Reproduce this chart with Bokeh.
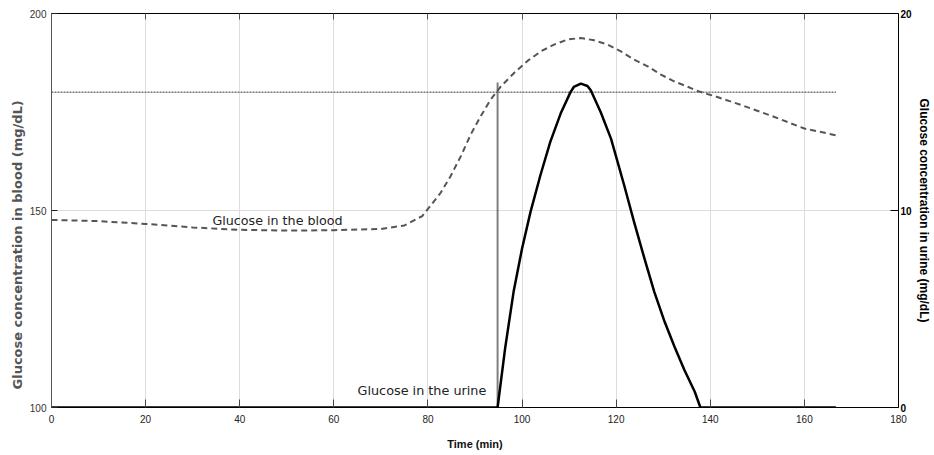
from bokeh.plotting import figure
from bokeh.models import LinearAxis, Range1d, FixedTicker, Label, Title
from bokeh.embed import file_html
from bokeh.resources import INLINE

# ---- data ----
blood_time = [0, 10, 20, 30, 40, 50, 60, 70, 75, 78.8, 80.2, 82.7, 84.8, 87.0, 89.1, 91.2,
              93.3, 95.5, 98.3, 101.1, 104.0, 106.8, 109.7, 112.5, 115.3, 118.2, 121.0,
              123.8, 126.7, 129.5, 132.3, 135.2, 137.6, 141.0, 146.5, 153.5, 160.0, 166.7]
blood = [147.6, 147.3, 146.6, 145.7, 145.1, 144.9, 145.0, 145.3, 146.2, 148.6, 150.7, 154.5,
         158.7, 163.8, 169.3, 173.9, 178.1, 181.5, 184.9, 187.9, 190.4, 192.1, 193.4, 193.8,
         193.2, 192.1, 190.4, 188.3, 186.6, 184.5, 182.8, 181.4, 180.2, 179.0, 176.8, 173.8,
         170.8, 169.1]

urine_time = [0, 94.8, 96.4, 98.2, 100.0, 101.8, 103.9, 106.0, 108.2, 110.3, 111.0, 112.5,
              113.9, 114.6, 116.7, 118.9, 120.0, 121.7, 123.8, 126.0, 128.1, 130.3, 132.4,
              134.5, 136.7, 137.9, 166.7]
urine = [0, 0, 3.0, 5.87, 8.07, 9.93, 11.79, 13.48, 14.92, 16.01, 16.27, 16.44,
         16.32, 16.1, 15.0, 13.65, 12.72, 11.28, 9.42, 7.57, 5.87, 4.35, 3.08,
         1.9, 0.8, 0, 0]

threshold_blood = 180
threshold_time = [0, 166.7]
onset_time = 94.8
onset_level = [100, 182.4]

x_ticks = [0, 20, 40, 60, 80, 100, 120, 140, 160, 180]
blood_ticks = [100, 150, 200]
urine_ticks = [0, 10, 20]

blood_label = "Glucose in the blood"
blood_label_pos = (34.2, 147.4)
urine_label = "Glucose in the urine"
urine_label_pos = (92.4, 104.3)
left_title = "Glucose concentration in blood (mg/dL)"

FONT = "Liberation Sans"

p = figure(frame_width=847, frame_height=394,
           x_range=Range1d(0, 180), y_range=Range1d(100, 200),
           output_backend="svg", toolbar_location=None,
           min_border_left=51, min_border_right=36, min_border_top=13, min_border_bottom=40)
p.extra_y_ranges = {"urine": Range1d(0, 20)}
p.outline_line_color = None
p.background_fill_color = "white"
p.border_fill_color = "white"

# grid
p.xgrid.ticker = FixedTicker(ticks=x_ticks)
p.xgrid.grid_line_color = "#dddddd"
p.ygrid.ticker = FixedTicker(ticks=blood_ticks)
p.ygrid.grid_line_color = "#dddddd"

# bottom axis
xa = p.xaxis[0]
xa.ticker = FixedTicker(ticks=x_ticks)
xa.axis_line_color = "black"
xa.major_tick_in = 8
xa.major_tick_out = 0
xa.minor_tick_line_color = None
xa.major_tick_line_color = "#444444"
xa.major_label_text_font = FONT
xa.major_label_text_font_size = "10px"
xa.major_label_text_color = "#222222"
xa.major_label_standoff = 7
xa.axis_label = "Time (min)"
xa.axis_label_text_font = FONT
xa.axis_label_text_font_style = "bold"
xa.axis_label_text_font_size = "11px"
xa.axis_label_text_color = "#111111"
xa.axis_label_standoff = 12

# left axis (its title is a Title placed on the left side)
ya = p.yaxis[0]
ya.ticker = FixedTicker(ticks=blood_ticks)
ya.axis_line_color = "#555555"
ya.major_tick_in = 6
ya.major_tick_out = 0
ya.minor_tick_line_color = None
ya.major_tick_line_color = "#222222"
ya.major_label_text_font = FONT
ya.major_label_text_font_size = "10px"
ya.major_label_text_color = "#333333"
ya.major_label_standoff = 5

lt = Title(text=left_title, align="left", offset=18,
           text_font="DejaVu Sans", text_font_style="bold", text_font_size="13px",
           text_color="#555555", standoff=4)
p.add_layout(lt, "left")

# right axis
ra = LinearAxis(y_range_name="urine", ticker=FixedTicker(ticks=urine_ticks))
ra.axis_line_color = "black"
ra.major_tick_in = 8
ra.major_tick_out = 0
ra.minor_tick_line_color = None
ra.major_tick_line_color = "black"
ra.major_label_text_font = FONT
ra.major_label_text_font_size = "10px"
ra.major_label_text_font_style = "bold"
ra.major_label_text_color = "black"
ra.major_label_standoff = 2
ra.axis_label = "Glucose concentration in urine (mg/dL)"
ra.axis_label_text_font = FONT
ra.axis_label_text_font_style = "bold"
ra.axis_label_text_font_size = "12px"
ra.axis_label_text_color = "black"
ra.axis_label_standoff = 2
p.add_layout(ra, "right")

# top border axis (ticks only)
ta = LinearAxis(ticker=FixedTicker(ticks=x_ticks))
ta.axis_line_color = "black"
ta.major_tick_in = 6
ta.major_tick_out = 0
ta.minor_tick_line_color = None
ta.major_tick_line_color = "#555555"
ta.major_label_overrides = {t: "" for t in x_ticks}
ta.major_label_standoff = 0
p.add_layout(ta, "above")

# threshold lines
p.line(threshold_time, [threshold_blood, threshold_blood], line_color="#777777",
       line_width=1.5, line_dash="2 1")
p.line([onset_time, onset_time], onset_level, line_color="black",
       line_width=2, line_dash="1 1")

# curves
p.line(blood_time, blood, line_color="#555555", line_width=2, line_dash="6 4")
p.line(urine_time, urine, y_range_name="urine", line_color="black", line_width=2.5,
       line_join="round")

p.add_layout(Label(x=blood_label_pos[0], y=blood_label_pos[1], text=blood_label,
                   text_font="DejaVu Sans", text_font_size="12.7px", text_color="#222222",
                   text_align="left", text_baseline="middle"))
p.add_layout(Label(x=urine_label_pos[0], y=urine_label_pos[1], text=urine_label,
                   text_font="DejaVu Sans", text_font_size="12.8px", text_color="#222222",
                   text_align="right", text_baseline="middle"))

open("out.html", "w").write(file_html(p, INLINE))
